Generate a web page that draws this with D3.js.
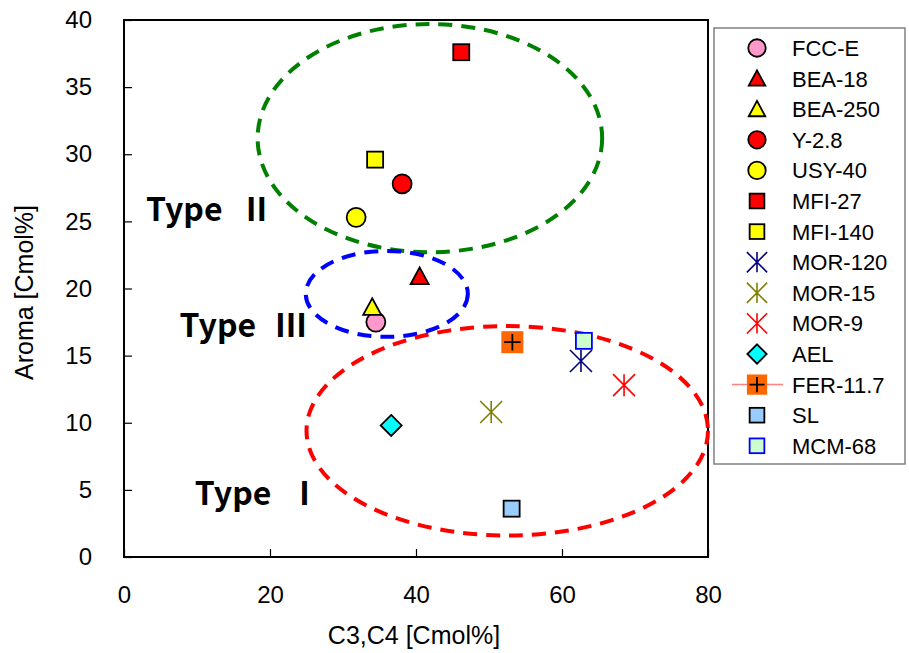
<!DOCTYPE html>
<html>
<head>
<meta charset="utf-8">
<script src="https://cdn.jsdelivr.net/npm/d3@7"></script>
<style>
body{margin:0;background:#fff;}
text{font-family:"Liberation Sans",Arial,sans-serif;}
</style>
</head>
<body>
<svg id="chart" width="909" height="653"></svg>
<script>
// samples, in legend order
var names   = ["FCC-E","BEA-18","BEA-250","Y-2.8","USY-40","MFI-27","MFI-140","MOR-120","MOR-15","MOR-9","AEL","FER-11.7","SL","MCM-68"];
var c3c4    = [34.5, 40.5, 34.0, 38.1, 31.8, 46.2, 34.4, 62.6, 50.3, 68.5, 36.6, 53.2, 53.1, 63.0];
var aroma   = [17.5, 20.9, 18.6, 27.8, 25.3, 37.6, 29.6, 14.6, 10.8, 12.8,  9.8, 16.0,  3.6, 16.1];
var shapes  = ["circle","triangle","triangle","circle","circle","square","square","star","star","star","diamond","plus","square","square"];
var fills   = ["#ff99cc","#ff0000","#ffff00","#ff0000","#ffff00","#ff0000","#ffff00","#000080","#808000","#ff0000","#00ffff","#ff6600","#99ccff","#ccffcc"];
var strokes = ["#000","#000","#000","#000","#000","#000","#000","#000080","#808000","#ff0000","#000","#000","#000","#0000ff"];

var xTicks = [0,20,40,60,80];
var yTicks = [0,5,10,15,20,25,30,35,40];

// dashed groupings: centre and radii in data units
var groups = [
  {cx:41.9, cy:31.2, rx:23.6, ry:8.5, color:"#008000"},
  {cx:36.0, cy:19.6, rx:11.1, ry:3.2, color:"#0000ff"},
  {cx:52.5, cy:9.4,  rx:27.5, ry:7.8, color:"#ff0000"}
];
var typeLabels = [
  {word:"Type", num:"\u2161", x:3.0, y:25.0, gap:18},
  {word:"Type", num:"\u2162", x:7.6, y:16.4, gap:19},
  {word:"Type", num:"\u2160", x:9.7, y:3.9,  gap:17}
];

var svg = d3.select("#chart");
var marge = {top:20,left:124,right:201,bottom:96};
var width = 909-marge.left-marge.right;
var height = 653-marge.top-marge.bottom;

var x = d3.scaleLinear().domain([0,80]).range([0,width]);
var y = d3.scaleLinear().domain([0,40]).range([height,0]);

var g = svg.append("g").attr("transform","translate("+marge.left+","+marge.top+")");

// axes, ticks inside
g.append("g").attr("transform","translate(0,"+height+")")
  .call(d3.axisBottom(x).tickValues(xTicks).tickSize(-8).tickPadding(29))
  .call(function(a){ a.select(".domain").remove(); })
  .selectAll("text").attr("font-size",24).attr("fill","#000").style("font-family","Liberation Sans, Arial, sans-serif");
g.append("g")
  .call(d3.axisLeft(y).tickValues(yTicks).tickSize(-8).tickPadding(32))
  .call(function(a){ a.select(".domain").remove(); })
  .selectAll("text").attr("font-size",24).attr("fill","#000").style("font-family","Liberation Sans, Arial, sans-serif");
g.selectAll(".tick line").attr("stroke","#000").attr("stroke-width",1.2);

g.append("rect").attr("width",width).attr("height",height)
  .attr("fill","none").attr("stroke","#000").attr("stroke-width",2);

// ellipses
g.selectAll(".grp").data(groups).enter().append("ellipse")
  .attr("cx",function(d){return x(d.cx);})
  .attr("cy",function(d){return y(d.cy);})
  .attr("rx",function(d){return x(d.rx)-x(0);})
  .attr("ry",function(d){return y(0)-y(d.ry);})
  .attr("fill","none")
  .attr("stroke",function(d){return d.color;})
  .attr("stroke-width",4)
  .attr("stroke-dasharray","14,9");

var tl = g.selectAll(".typ").data(typeLabels).enter().append("text")
  .attr("x",function(d){return x(d.x);})
  .attr("y",function(d){return y(d.y);})
  .attr("font-size",32).attr("font-weight","bold")
  .style("font-family","'Noto Sans CJK JP','Liberation Sans',sans-serif");
tl.append("tspan").text(function(d){return d.word;});
tl.append("tspan").attr("dx",function(d){return d.gap;}).text(function(d){return d.num;});

// marker drawing
function drawMarker(sel,i,k){
  var s = shapes[i], f = fills[i], st = strokes[i];
  if(s=="circle"){
    sel.append("circle").attr("r",9.5*k).attr("fill",f).attr("stroke",st).attr("stroke-width",1.8);
  }else if(s=="square"){
    sel.append("rect").attr("x",-8*k).attr("y",-8*k).attr("width",16*k).attr("height",16*k)
      .attr("fill",f).attr("stroke",st).attr("stroke-width",1.8);
  }else if(s=="triangle"){
    var a=9*k;
    sel.append("path").attr("d","M0,"+(-a)+"L"+a+","+(a*0.85)+"L"+(-a)+","+(a*0.85)+"Z")
      .attr("fill",f).attr("stroke",st).attr("stroke-width",1.8);
  }else if(s=="diamond"){
    var r=10.5*k;
    sel.append("path").attr("d","M0,"+(-r)+"L"+r+",0L0,"+r+"L"+(-r)+",0Z")
      .attr("fill",f).attr("stroke",st).attr("stroke-width",1.8);
  }else if(s=="star"){
    var h=11*k;
    sel.append("path").attr("d","M0,"+(-h)+"L0,"+h+"M"+(-h)+","+(-h)+"L"+h+","+h+"M"+h+","+(-h)+"L"+(-h)+","+h)
      .attr("fill","none").attr("stroke",st).attr("stroke-width",1.6);
  }else if(s=="plus"){
    var p=11*k;
    sel.append("rect").attr("x",-p).attr("y",-p).attr("width",2*p).attr("height",2*p).attr("fill",f);
    sel.append("path").attr("d","M"+(-p*0.75)+",0L"+(p*0.75)+",0M0,"+(-p*0.75)+"L0,"+(p*0.75))
      .attr("stroke","#000").attr("stroke-width",1.8);
  }
}

var idx = d3.range(names.length);
g.selectAll(".pt").data(idx).enter().append("g")
  .attr("transform",function(i){return "translate("+x(c3c4[i])+","+y(aroma[i])+")";})
  .each(function(i){ drawMarker(d3.select(this),i,1); });

// legend
var lg = svg.append("g").attr("transform","translate(714,28)");
lg.append("rect").attr("width",191).attr("height",436)
  .attr("fill","#fff").attr("stroke","#808080").attr("stroke-width",1.5);
var rows = lg.selectAll(".row").data(idx).enter().append("g")
  .attr("transform",function(i){return "translate(0,"+(20+i*30.6)+")";});
rows.each(function(i){
  var r = d3.select(this);
  if(names[i]=="FER-11.7"){
    r.append("line").attr("x1",18).attr("x2",69).attr("stroke","#ff8080").attr("stroke-width",1.5);
  }
  var m = r.append("g").attr("transform","translate(43,0)");
  drawMarker(m,i,0.92);
  r.append("text").attr("x",78).attr("dy","0.36em").attr("font-size",22).text(names[i]);
});

// axis titles
svg.append("text").attr("x",marge.left+width/2-2).attr("y",644)
  .attr("text-anchor","middle").attr("font-size",25).text("C3,C4 [Cmol%]");
svg.append("text").attr("transform","translate(33,"+(marge.top+height/2+4)+") rotate(-90)")
  .attr("text-anchor","middle").attr("font-size",25).text("Aroma [Cmol%]");
</script>
</body>
</html>
